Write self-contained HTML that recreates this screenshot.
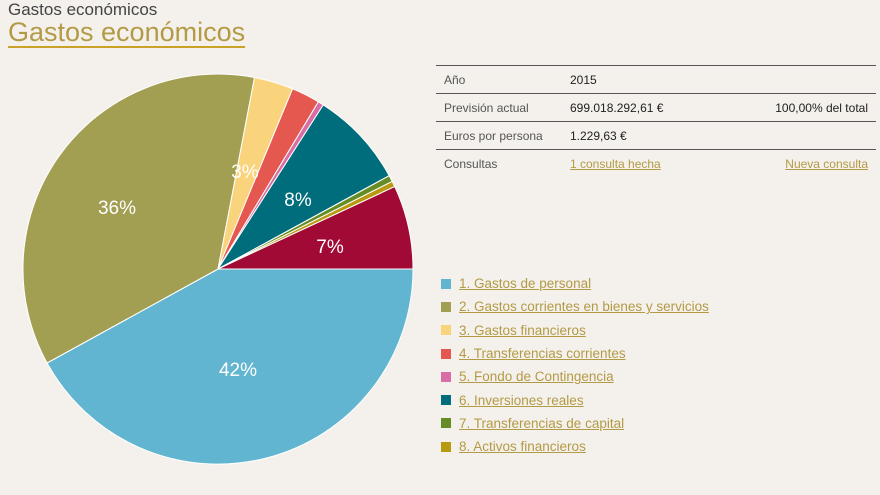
<!DOCTYPE html>
<html><head><meta charset="utf-8"><style>
body{margin:0;width:880px;height:495px;background:#f4f1ec;font-family:"Liberation Sans",sans-serif;position:relative;overflow:hidden}
.t1{position:absolute;left:8px;top:0px;font-size:17px;color:#444}
.t2{position:absolute;left:8px;top:17px;font-size:27px;color:#b39a45;text-decoration:underline;text-decoration-thickness:2px;text-underline-offset:5px;text-decoration-color:#c9a227}
table{position:absolute;left:436px;top:65px;width:440px;border-collapse:collapse;font-size:12px}
td{border-top:1px solid #555;height:27px;padding:0 8px;color:#222}
td.l{color:#555;width:110px}
a{color:#b39a45;text-decoration:underline}
.lg{position:absolute;left:441px;top:272px;font-size:13.5px}
.lg div{height:23.3px;display:flex;align-items:center}
.lg span{display:inline-block;width:10px;height:10px;margin-right:8px}
</style></head><body>
<div class="t1">Gastos económicos</div>
<div class="t2">Gastos económicos</div>
<svg width="880" height="495" style="position:absolute;left:0;top:0">
<g stroke="#fff" stroke-width="1">
<path d="M218,269 L413,269 A195,195 0 0 1 47.1,363 Z" fill="#62b5d0"/>
<path d="M218,269 L47.1,363 A195,195 0 0 1 254.5,77.5 Z" fill="#a29f52"/>
<path d="M218,269 L254.5,77.5 A195,195 0 0 1 292.6,88.8 Z" fill="#fad47c"/>
<path d="M218,269 L292.6,88.8 A195,195 0 0 1 318.4,101.8 Z" fill="#e5584f"/>
<path d="M218,269 L318.4,101.8 A195,195 0 0 1 323.3,104.9 Z" fill="#d96da5"/>
<path d="M218,269 L323.3,104.9 A195,195 0 0 1 389.2,175.7 Z" fill="#006d7c"/>
<path d="M218,269 L389.2,175.7 A195,195 0 0 1 392.2,181.4 Z" fill="#668c25"/>
<path d="M218,269 L392.2,181.4 A195,195 0 0 1 394.7,186.6 Z" fill="#b89a10"/>
<path d="M218,269 L394.7,186.6 A195,195 0 0 1 413,269 Z" fill="#a20a36"/>
</g>
<g fill="#fff" font-size="19" font-family="Liberation Sans" text-anchor="middle">
<text x="238" y="376">42%</text>
<text x="117" y="214">36%</text>
<text x="245" y="178">3%</text>
<text x="298" y="206">8%</text>
<text x="330" y="253">7%</text>
</g>
</svg>
<table>
<tr><td class="l">Año</td><td>2015</td><td></td></tr>
<tr><td class="l">Previsión actual</td><td>699.018.292,61 €</td><td style="text-align:right">100,00% del total</td></tr>
<tr><td class="l">Euros por persona</td><td>1.229,63 €</td><td></td></tr>
<tr><td class="l">Consultas</td><td><a>1 consulta hecha</a></td><td style="text-align:right"><a>Nueva consulta</a></td></tr>
</table>
<div class="lg">
<div><span style="background:#62b5d0"></span><a>1. Gastos de personal</a></div>
<div><span style="background:#a29f52"></span><a>2. Gastos corrientes en bienes y servicios</a></div>
<div><span style="background:#fad47c"></span><a>3. Gastos financieros</a></div>
<div><span style="background:#e5584f"></span><a>4. Transferencias corrientes</a></div>
<div><span style="background:#d96da5"></span><a>5. Fondo de Contingencia</a></div>
<div><span style="background:#006d7c"></span><a>6. Inversiones reales</a></div>
<div><span style="background:#668c25"></span><a>7. Transferencias de capital</a></div>
<div><span style="background:#b89a10"></span><a>8. Activos financieros</a></div>
</div>
</body></html>
